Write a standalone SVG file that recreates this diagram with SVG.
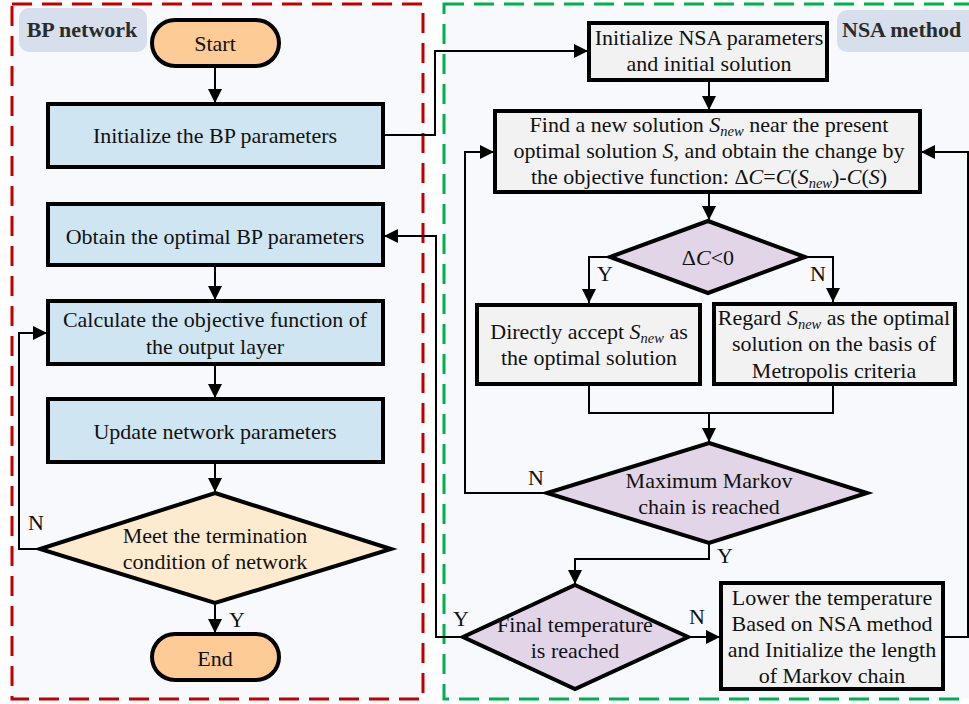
<svg xmlns="http://www.w3.org/2000/svg" width="969" height="704" viewBox="0 0 969 704">
<defs>
<marker id="ah" markerUnits="userSpaceOnUse" markerWidth="14" markerHeight="14" viewBox="0 0 14 14" refX="14" refY="7" orient="auto">
<path d="M0,0 L14,7 L0,14 z" fill="#000"/>
</marker>
</defs>
<style>
text{font-family:"Liberation Serif","Times New Roman",serif;font-size:22px;fill:#111;text-anchor:middle}
.lbl{font-weight:bold;font-size:22px;fill:#2b2b2b}
.it{font-style:italic}
.sub{font-style:italic;font-size:14.5px}
.yn{text-anchor:start}
.blue{fill:#cfe5f2;stroke:#000;stroke-width:4}
.gray{fill:#f2f2f2;stroke:#000;stroke-width:4}
.purp{fill:#e2d5e8;stroke:#000;stroke-width:4}
.yel{fill:#fdebd0;stroke:#000;stroke-width:4}
.term{fill:#fccb96;stroke:#000;stroke-width:4}
.tag{fill:#d6dfeb}
.conn path{fill:none;stroke:#000;stroke-width:2}
.arr{marker-end:url(#ah)}
</style>
<rect x="0" y="0" width="969" height="704" fill="#ffffff"/>
<g id="bp-panel">
<rect x="12" y="4" width="411" height="695" fill="#f8f9fd" stroke="#c00000" stroke-width="3" stroke-dasharray="20 10"/>
<rect x="19" y="8" width="128" height="44" rx="10" class="tag"/>
<text x="82" y="37" class="lbl">BP network</text>
</g>
<g id="nsa-panel">
<rect x="444" y="4" width="540" height="695" fill="#f8f9fd" stroke="#00b050" stroke-width="3" stroke-dasharray="20 10"/>
<rect x="837" y="10" width="150" height="42" rx="10" class="tag"/>
<text x="842" y="37" class="lbl yn">NSA method</text>
</g>
<g class="conn" id="connectors">
<path class="arr" d="M215,66 V103"/>
<path class="arr" d="M383,135 H435 V51 H588"/>
<path class="arr" d="M463,637 H436 V236 H384"/>
<path class="arr" d="M215,265 V300"/>
<path class="arr" d="M215,364 V398"/>
<path class="arr" d="M215,462 V492"/>
<path class="arr" d="M40,549 H19 V333 H47"/>
<path class="arr" d="M215,603 V633"/>
<path class="arr" d="M709,80 V110"/>
<path class="arr" d="M709,192 V220"/>
<path class="arr" d="M610,257 H589 V303"/>
<path class="arr" d="M805,257 H833 V302"/>
<path d="M589,384 V413 H833 V384"/>
<path class="arr" d="M709,413 V442"/>
<path class="arr" d="M547,493 H465 V152 H494"/>
<path class="arr" d="M709,543 V559 H575 V584"/>
<path class="arr" d="M688,637 H720"/>
<path class="arr" d="M943,637 H968 V152 H921"/>
</g>
<g id="start">
<rect x="152" y="20" width="127" height="46" rx="23" class="term"/>
<text x="215" y="51">Start</text>
</g>
<g id="init-bp">
<rect x="48" y="104" width="335" height="63" class="blue"/>
<text x="215" y="143">Initialize the BP parameters</text>
</g>
<g id="obtain-bp">
<rect x="48" y="204" width="335" height="61" class="blue"/>
<text x="215" y="244">Obtain the optimal BP parameters</text>
</g>
<g id="calc">
<rect x="48" y="301" width="335" height="63" class="blue"/>
<text x="215" y="327">Calculate the objective function of</text>
<text x="215" y="354">the output layer</text>
</g>
<g id="update">
<rect x="48" y="399" width="335" height="63" class="blue"/>
<text x="215" y="439">Update network parameters</text>
</g>
<g id="meet">
<polygon points="215,493 391,549 215,603 40,549" class="yel"/>
<text x="215" y="543">Meet the termination</text>
<text x="215" y="569">condition of network</text>
</g>
<g id="end">
<rect x="152" y="634" width="127" height="46" rx="23" class="term"/>
<text x="215" y="666">End</text>
</g>
<g id="init-nsa">
<rect x="589" y="23" width="238" height="57" class="gray"/>
<text x="709" y="45">Initialize NSA parameters</text>
<text x="709" y="71">and initial solution</text>
</g>
<g id="find">
<rect x="495" y="111" width="425" height="81" class="gray"/>
<text x="709" y="132">Find a new solution <tspan class="it">S</tspan><tspan class="sub" dy="4">new</tspan><tspan dy="-4"> near the present</tspan></text>
<text x="709" y="158">optimal solution <tspan class="it">S</tspan>, and obtain the change by</text>
<text x="709" y="184">the objective function: Δ<tspan class="it">C</tspan>=<tspan class="it">C</tspan>(<tspan class="it">S</tspan><tspan class="sub" dy="4">new</tspan><tspan dy="-4">)-</tspan><tspan class="it">C</tspan>(<tspan class="it">S</tspan>)</text>
</g>
<g id="dc">
<polygon points="708,221 805,257 708,293 610,257" class="purp"/>
<text x="708" y="265">Δ<tspan class="it">C</tspan>&lt;0</text>
</g>
<g id="accept">
<rect x="477" y="305" width="223" height="79" class="gray"/>
<text x="589" y="339">Directly accept <tspan class="it">S</tspan><tspan class="sub" dy="4">new</tspan><tspan dy="-4"> as</tspan></text>
<text x="589" y="365">the optimal solution</text>
</g>
<g id="regard">
<rect x="714" y="304" width="241" height="80" class="gray"/>
<text x="834" y="325">Regard <tspan class="it">S</tspan><tspan class="sub" dy="4">new</tspan><tspan dy="-4"> as the optimal</tspan></text>
<text x="834" y="351">solution on the basis of</text>
<text x="834" y="378">Metropolis criteria</text>
</g>
<g id="markov">
<polygon points="709,443 867,493 709,543 547,493" class="purp"/>
<text x="709" y="488">Maximum Markov</text>
<text x="709" y="514">chain is reached</text>
</g>
<g id="final">
<polygon points="575,585 688,637 575,689 463,637" class="purp"/>
<text x="575" y="632">Final temperature</text>
<text x="575" y="658">is reached</text>
</g>
<g id="lower">
<rect x="721" y="583" width="222" height="106" class="gray"/>
<text x="832" y="605">Lower the temperature</text>
<text x="832" y="631">Based on NSA method</text>
<text x="832" y="657">and Initialize the length</text>
<text x="832" y="683">of Markov chain</text>
</g>
<g id="labels">
<text x="36" y="530">N</text>
<text x="237" y="627">Y</text>
<text x="605" y="281">Y</text>
<text x="818" y="281">N</text>
<text x="536" y="485">N</text>
<text x="725" y="563">Y</text>
<text x="461" y="626">Y</text>
<text x="697" y="624">N</text>
</g>
</svg>
